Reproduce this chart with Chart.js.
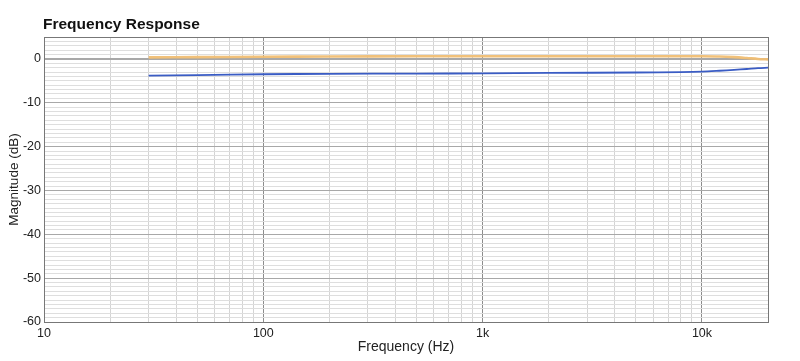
<!DOCTYPE html>
<html>
<head>
<meta charset="utf-8">
<script src="https://cdn.jsdelivr.net/npm/chart.js@4"></script>
<style>
  html, body { margin: 0; padding: 0; background: #fff; }
  #wrap { width: 800px; height: 361px; }
</style>
</head>
<body>
<div id="wrap"><canvas id="fr"></canvas></div>
<script>
// frequency points (Hz) and magnitudes (dB)
const freqs    = [30, 50, 100, 200, 500, 1000, 2000, 5000, 8000, 10000, 12000, 14000, 16000, 18000, 20000];
const orangeDb = [0.35, 0.4, 0.5, 0.55, 0.6, 0.6, 0.6, 0.6, 0.6, 0.6, 0.55, 0.4, 0.2, 0.0, -0.1];
const blueDb   = [-3.8, -3.7, -3.5, -3.4, -3.35, -3.3, -3.2, -3.1, -3.0, -2.9, -2.7, -2.5, -2.3, -2.1, -2.0];

const xMin = 10, xMax = 20000;
const yMin = -60, yMax = 5;
const xTickLabels = { 10: '10', 100: '100', 1000: '1k', 10000: '10k' };
const yTickLabels = [0, -10, -20, -30, -40, -50, -60];

const font = "'Liberation Sans', Arial, Helvetica, sans-serif";

const titlePlugin = {
    id: 'plotTitle',
    afterDraw(chart) {
        const ctx = chart.ctx;
        ctx.save();
        ctx.fillStyle = '#111';
        ctx.font = 'bold 15.5px ' + font;
        ctx.textBaseline = 'alphabetic';
        ctx.fillText('Frequency Response', chart.chartArea.left - 1, 29);
        ctx.restore();
    },
};

const borderPlugin = {
    id: 'plotBorder',
    afterDatasetsDraw(chart) {
        const { left, right, top, bottom } = chart.chartArea;
        const ctx = chart.ctx;
        ctx.save();
        ctx.strokeStyle = '#777';
        ctx.lineWidth = 1;
        ctx.strokeRect(Math.round(left) + 0.5, Math.round(top) + 0.5, Math.round(right - left), Math.round(bottom - top));
        ctx.restore();
    },
};

function series(vals) {
    return freqs.map((f, i) => ({ x: f, y: vals[i] }));
}

new Chart(document.getElementById('fr'), {
    type: 'line',
    data: {
        datasets: [
            {
                label: 'A',
                data: series(orangeDb),
                borderColor: 'rgba(240,190,115,0.95)',
                borderWidth: 2.6,
                pointRadius: 0,
                tension: 0.3,
            },
            {
                label: 'B',
                data: series(blueDb),
                borderColor: '#3a5cc4',
                borderWidth: 1.8,
                pointRadius: 0,
                tension: 0.3,
            },
        ],
    },
    options: {
        responsive: true,
        maintainAspectRatio: false,
        animation: false,
        layout: { padding: { top: 37, right: 32, left: 0, bottom: 0 } },
        plugins: {
            legend:  { display: false },
            tooltip: { enabled: false },
            title:   { display: false },
        },
        scales: {
            x: {
                type: 'logarithmic',
                min: xMin,
                max: xMax,
                afterBuildTicks: s => {
                    const t = [];
                    for (let d = 10; d <= xMax; d *= 10) {
                        for (let k = 1; k <= 9; k++) {
                            const v = d * k;
                            if (v <= xMax) t.push({ value: v });
                        }
                    }
                    s.ticks = t;
                },
                afterFit: s => { s.height = 39; },
                grid: {
                    drawTicks: false,
                    color: c => (xTickLabels[c.tick?.value] ? '#8c8c8c' : '#d4d4d4'),
                    lineWidth: 1,
                },
                border: { display: false },
                ticks: {
                    autoSkip: false,
                    maxRotation: 0,
                    padding: 4,
                    color: '#222',
                    font: { family: font, size: 12.5 },
                    callback: v => xTickLabels[v] ?? '',
                },
                title: {
                    display: true,
                    text: 'Frequency (Hz)',
                    color: '#222',
                    font: { family: font, size: 14 },
                    padding: { top: 0, bottom: 5 },
                },
            },
            y: {
                min: yMin,
                max: yMax,
                afterBuildTicks: s => {
                    const t = [];
                    for (let v = yMax; v >= yMin; v--) t.push({ value: v });
                    s.ticks = t;
                },
                afterFit: s => { s.width = 44; },
                grid: {
                    drawTicks: false,
                    color: c => (c.tick && c.tick.value % 10 === 0 ? '#a8a8a8' : '#dedede'),
                    lineWidth: c => (c.tick && c.tick.value === 0 ? 2 : 1),
                },
                border: { display: false },
                ticks: {
                    autoSkip: false,
                    padding: 3,
                    color: '#222',
                    font: { family: font, size: 12.5 },
                    callback: v => (yTickLabels.includes(v) ? String(v) : ''),
                },
                title: {
                    display: true,
                    text: 'Magnitude (dB)',
                    color: '#222',
                    font: { family: font, size: 13.5 },
                    padding: { top: 6, bottom: 0 },
                },
            },
        },
    },
    plugins: [titlePlugin, borderPlugin],
});
</script>
</body>
</html>
